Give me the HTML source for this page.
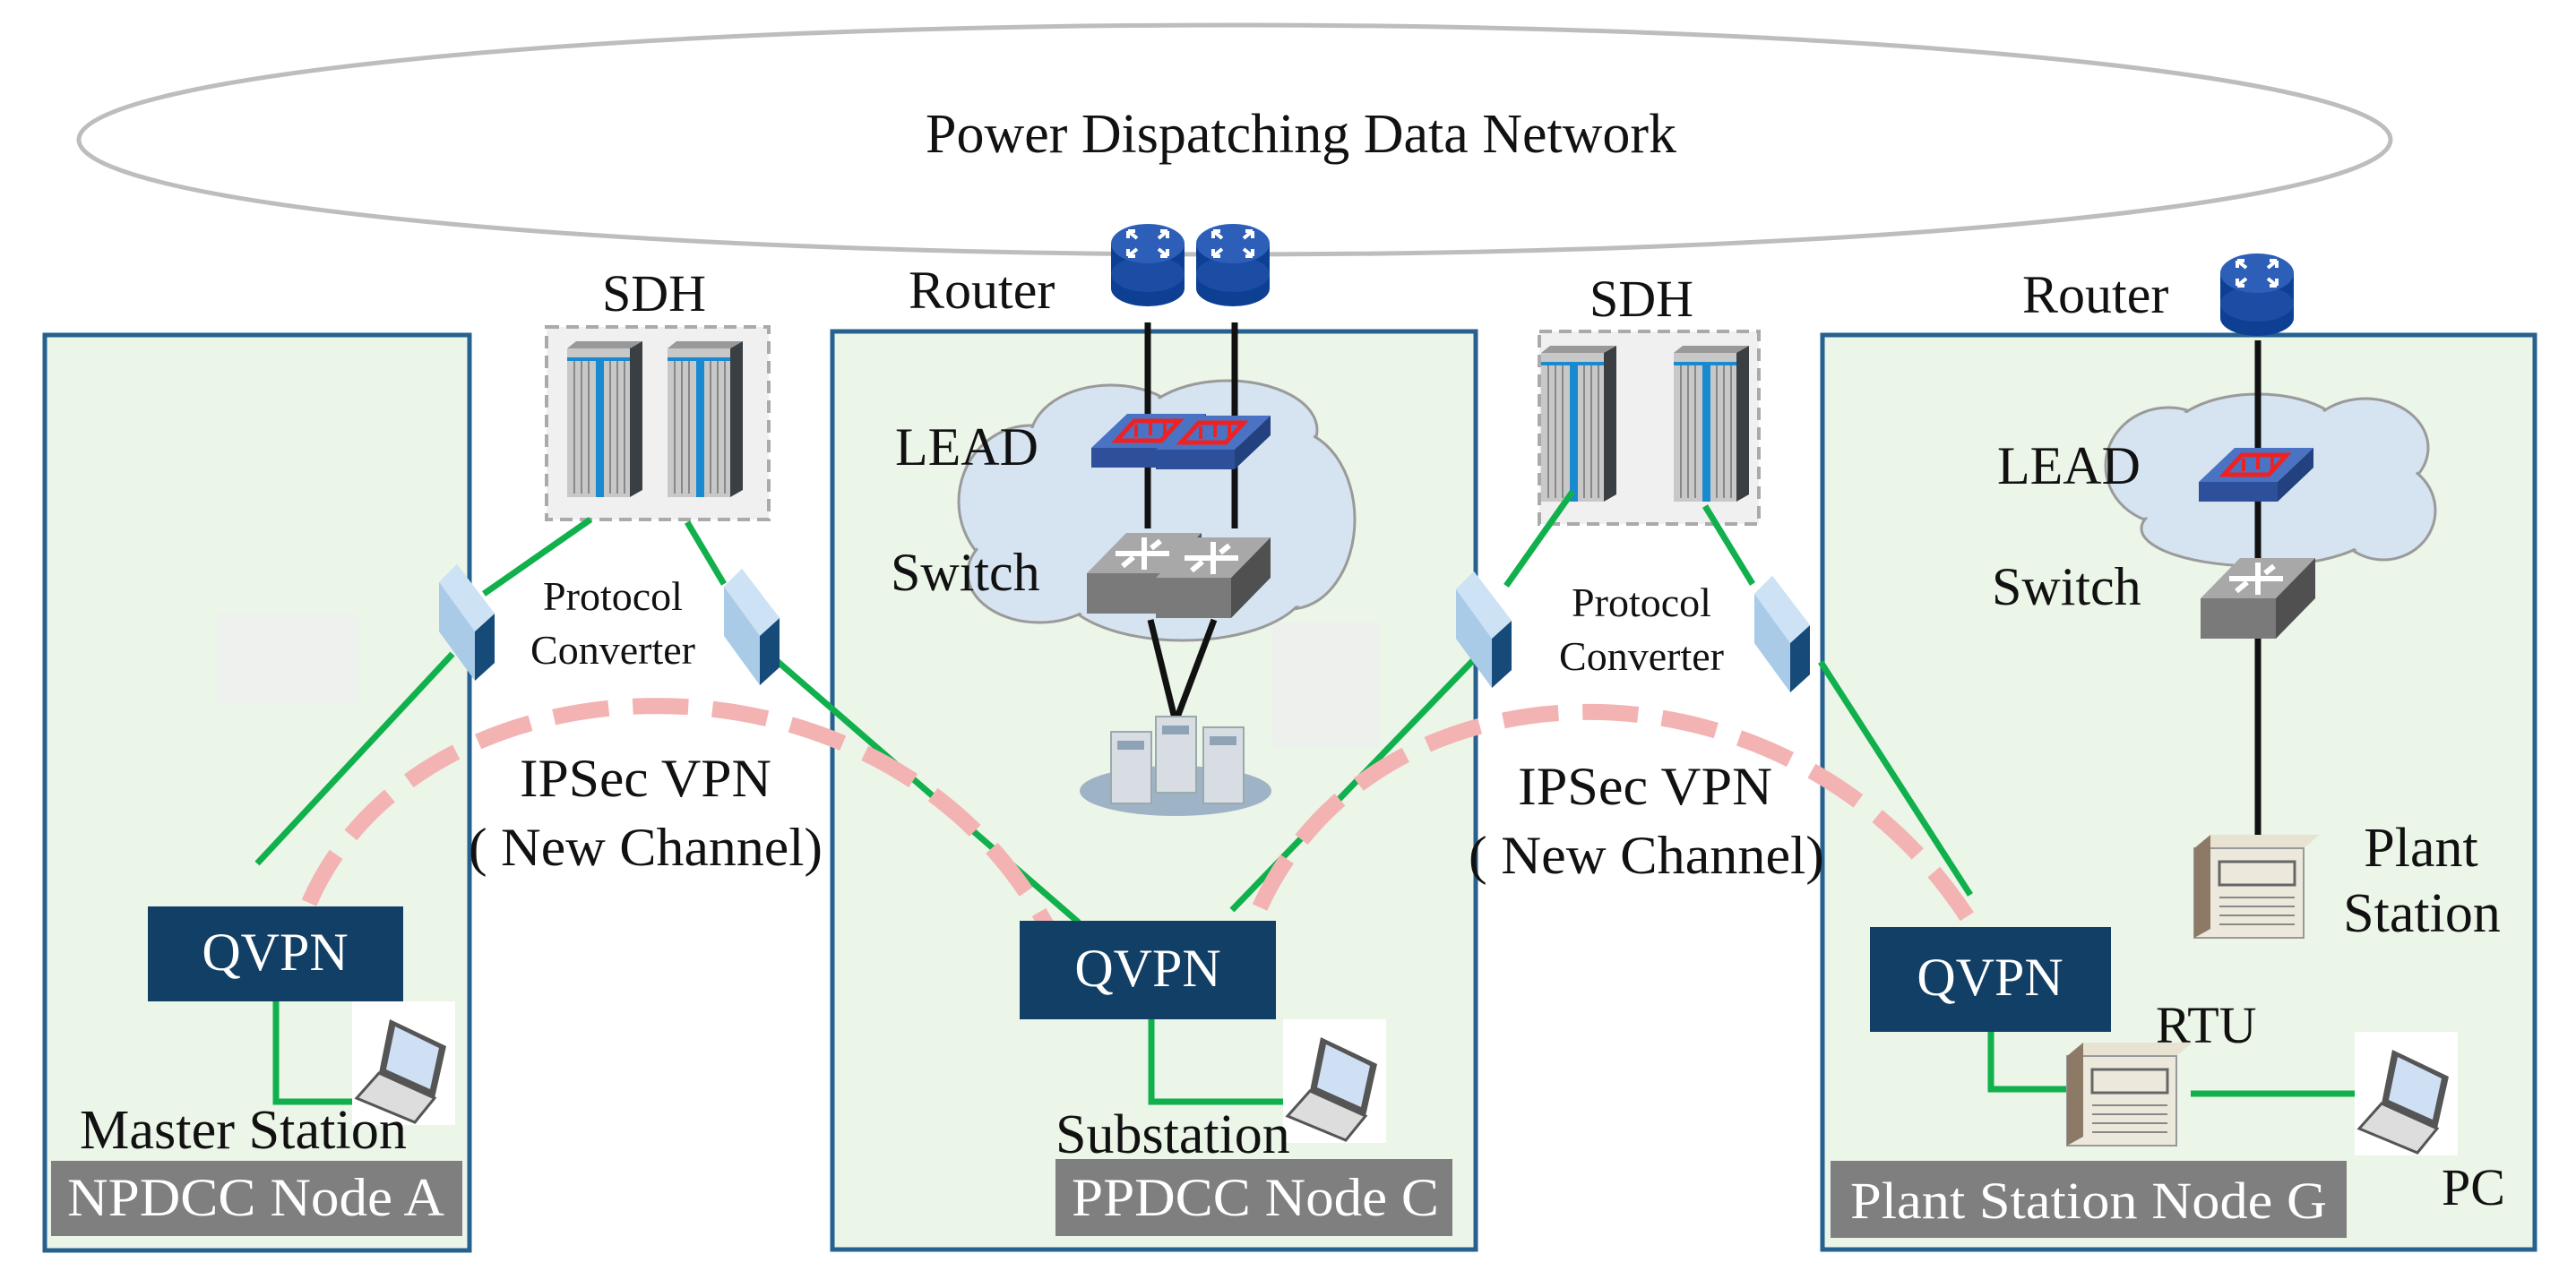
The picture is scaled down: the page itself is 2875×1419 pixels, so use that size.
<!DOCTYPE html>
<html><head><meta charset="utf-8"><style>
html,body{margin:0;padding:0;background:#fff;}
svg{display:block;}
text{font-family:"Liberation Serif","Times New Roman",serif;fill:#111;}
</style></head><body>
<svg width="2875" height="1419" viewBox="0 0 2875 1419" xmlns="http://www.w3.org/2000/svg" font-family="Liberation Serif, serif">
<defs>
<g id="router">
  <rect x="-41" y="-20" width="82" height="50" fill="#0d3f93"/>
  <ellipse cx="0" cy="30" rx="41" ry="20" fill="#0d3f93"/>
  <ellipse cx="0" cy="14" rx="41" ry="20" fill="#1a4da3"/>
  <ellipse cx="0" cy="-20" rx="41" ry="22" fill="#2d5fb8"/>
  <path d="M-22,-34 l10,8 M-22,-34 v8 M-22,-34 h8 M22,-34 l-10,8 M22,-34 v8 M22,-34 h-8 M-22,-6 l10,-8 M-22,-6 v-8 M-22,-6 h8 M22,-6 l-10,-8 M22,-6 v-8 M22,-6 h-8" stroke="#fff" stroke-width="4" fill="none"/>
</g>
<g id="lead">
  <polygon points="-62,0 -22,-38 66,-38 26,0" fill="#4a73c4"/>
  <polygon points="-62,0 26,0 26,22 -62,22" fill="#2e4f99"/>
  <polygon points="26,0 66,-38 66,-16 26,22" fill="#23407f"/>
  <polygon points="-34,-8 -14,-30 36,-30 16,-8" fill="none" stroke="#e22" stroke-width="5"/>
  <path d="M-12,-26 v14 M4,-28 v14 M20,-28 v14" stroke="#e22" stroke-width="4"/>
</g>
<g id="switch">
  <polygon points="-62,0 -18,-45 66,-45 22,0" fill="#a8a8a8"/>
  <polygon points="-62,0 22,0 22,45 -62,45" fill="#7a7a7a"/>
  <polygon points="22,0 66,-45 66,0 22,45" fill="#505050"/>
  <path d="M-30,-22 h60 M2,-40 v36 M-22,-8 l12,-10 M20,-36 l-10,8" stroke="#fff" stroke-width="6" fill="none"/>
</g>
<g id="rack">
  <rect x="0" y="8" width="70" height="166" fill="#c8c8c8"/>
  <path d="M8,20 v150 M16,20 v150 M24,20 v150 M48,20 v150 M56,20 v150 M64,20 v150" stroke="#888" stroke-width="2"/>
  <rect x="32" y="20" width="9" height="154" fill="#1a8ad0"/>
  <rect x="0" y="18" width="70" height="4" fill="#1a8ad0"/>
  <polygon points="0,8 10,0 84,0 70,8" fill="#999"/>
  <polygon points="70,8 84,0 84,166 70,174" fill="#3a3f44"/>
</g>
<g id="conv">
  <polygon points="0,20 20,0 62,55 62,110 40,130 0,75" fill="#a9cbe8"/>
  <polygon points="40,75 62,55 62,110 40,130" fill="#164a78"/>
  <polygon points="0,20 20,0 62,55 40,75" fill="#cde2f4"/>
</g>
<g id="laptop">
  <rect x="0" y="0" width="115" height="138" fill="#fff"/>
  <polygon points="42,20 105,50 92,108 30,80" fill="#555"/>
  <polygon points="48,28 97,52 87,98 38,76" fill="#cfe0f5"/>
  <polygon points="30,80 92,108 70,135 5,108" fill="#ddd" stroke="#555" stroke-width="3"/>
</g>
<g id="beige">
  <polygon points="0,15 18,0 140,0 122,15" fill="#e8e2d2"/>
  <rect x="0" y="15" width="122" height="100" fill="#ece8dc" stroke="#999" stroke-width="2"/>
  <polygon points="0,15 18,0 18,105 0,115" fill="#8c7a66"/>
  <rect x="28" y="30" width="84" height="26" fill="none" stroke="#666" stroke-width="3"/>
  <path d="M28,70 h84 M28,80 h84 M28,90 h84 M28,100 h84" stroke="#888" stroke-width="2"/>
</g>
</defs>

<ellipse cx="1378" cy="156" rx="1290" ry="128" fill="#fff" stroke="#bdbdbd" stroke-width="5"/>
<text x="1033" y="170" font-size="62" textLength="838" lengthAdjust="spacingAndGlyphs">Power Dispatching Data Network</text>

<rect x="50" y="374" width="474" height="1022" fill="#ebf5e8" stroke="#26618f" stroke-width="5"/>
<rect x="929" y="370" width="718" height="1025" fill="#ebf5e8" stroke="#26618f" stroke-width="5"/>
<rect x="2034" y="374" width="795" height="1021" fill="#ebf5e8" stroke="#26618f" stroke-width="5"/>

<rect x="243" y="684" width="156" height="102" fill="#eef1ed"/>
<rect x="1420" y="695" width="120" height="140" fill="#eef0ee"/>

<g fill="#d6e3f1" stroke="#9a9a9a" stroke-width="3">
  <ellipse cx="1150" cy="560" rx="80" ry="85"/>
  <ellipse cx="1240" cy="490" rx="90" ry="60"/>
  <ellipse cx="1370" cy="480" rx="100" ry="55"/>
  <ellipse cx="1440" cy="580" rx="72" ry="100"/>
  <ellipse cx="1320" cy="650" rx="140" ry="65"/>
  <ellipse cx="1160" cy="640" rx="80" ry="55"/>
  <ellipse cx="2420" cy="520" rx="70" ry="65"/>
  <ellipse cx="2520" cy="490" rx="100" ry="50"/>
  <ellipse cx="2640" cy="500" rx="70" ry="55"/>
  <ellipse cx="2660" cy="570" rx="58" ry="55"/>
  <ellipse cx="2520" cy="590" rx="130" ry="42"/>
</g>
<g fill="#d6e3f1">
  <ellipse cx="1150" cy="560" rx="77" ry="82"/>
  <ellipse cx="1240" cy="490" rx="87" ry="57"/>
  <ellipse cx="1370" cy="480" rx="97" ry="52"/>
  <ellipse cx="1440" cy="580" rx="69" ry="97"/>
  <ellipse cx="1320" cy="650" rx="137" ry="62"/>
  <ellipse cx="1160" cy="640" rx="77" ry="52"/>
  <rect x="1150" y="500" width="300" height="150"/>
  <ellipse cx="2420" cy="520" rx="67" ry="62"/>
  <ellipse cx="2520" cy="490" rx="97" ry="47"/>
  <ellipse cx="2640" cy="500" rx="67" ry="52"/>
  <ellipse cx="2660" cy="570" rx="55" ry="52"/>
  <ellipse cx="2520" cy="590" rx="127" ry="39"/>
  <rect x="2420" y="500" width="240" height="90"/>
</g>

<rect x="610" y="365" width="248" height="215" fill="#f0f0f0" stroke="#aaa" stroke-width="4" stroke-dasharray="14 8"/>
<use href="#rack" x="633" y="381"/>
<use href="#rack" x="745" y="381"/>
<rect x="1718" y="370" width="245" height="215" fill="#f0f0f0" stroke="#aaa" stroke-width="4" stroke-dasharray="14 8"/>
<use href="#rack" x="1720" y="386"/>
<use href="#rack" x="1868" y="386"/>
<text x="730" y="347" font-size="58" text-anchor="middle">SDH</text>
<text x="1832" y="353" font-size="58" text-anchor="middle">SDH</text>

<g stroke="#111" stroke-width="7" fill="none">
  <path d="M1281,360 V590 M1378,360 V590"/>
  <path d="M1284,692 L1312,806 L1355,692"/>
  <path d="M2520,380 V940"/>
</g>

<use href="#router" x="1281" y="292"/>
<use href="#router" x="1376" y="292"/>
<use href="#router" x="2519" y="325"/>
<text x="1014" y="344" font-size="60">Router</text>
<text x="2257" y="349" font-size="60">Router</text>

<use href="#lead" x="1280" y="500"/>
<use href="#lead" x="1352" y="502"/>
<use href="#switch" x="1275" y="640"/>
<use href="#switch" x="1352" y="645"/>
<use href="#lead" x="2516" y="538"/>
<use href="#switch" x="2518" y="668"/>
<text x="999" y="519" font-size="60">LEAD</text>
<text x="994" y="659" font-size="60">Switch</text>
<text x="2229" y="540" font-size="60">LEAD</text>
<text x="2223" y="675" font-size="60">Switch</text>

<ellipse cx="1312" cy="883" rx="107" ry="28" fill="#9fb3c6"/>
<g fill="#d8dde4" stroke="#9aa" stroke-width="2">
  <rect x="1240" y="817" width="45" height="80"/>
  <rect x="1290" y="800" width="45" height="85"/>
  <rect x="1343" y="812" width="45" height="85"/>
</g>
<g fill="#8fa3b6"><rect x="1247" y="827" width="30" height="10"/><rect x="1297" y="810" width="30" height="10"/><rect x="1350" y="822" width="30" height="10"/></g>

<g stroke="#10b04c" stroke-width="7" fill="none">
  <path d="M659,580 L540,663 M505,730 L287,964"/>
  <path d="M767,583 L808,652 M858,730 L1204,1030"/>
  <path d="M1755,549 L1681,654 M1653,728 L1375,1016"/>
  <path d="M1903,565 L1956,652 M2032,739 L2199,999"/>
  <path d="M308,1118 V1230 H422"/>
  <path d="M1285,1138 V1230 H1437"/>
  <path d="M2222,1150 V1216 H2307 M2445,1221 H2628"/>
</g>

<use href="#conv" x="490" y="630"/>
<use href="#conv" x="808" y="635"/>
<use href="#conv" x="1625" y="638"/>
<use href="#conv" x="1958" y="643"/>
<text x="684" y="681" font-size="46" text-anchor="middle">Protocol</text>
<text x="684" y="741" font-size="46" text-anchor="middle">Converter</text>
<text x="1832" y="688" font-size="46" text-anchor="middle">Protocol</text>
<text x="1832" y="748" font-size="46" text-anchor="middle">Converter</text>

<g stroke="#f3b3b3" stroke-width="18" fill="none" stroke-dasharray="62 27">
  <path d="M345,1008 C470,720 990,700 1170,1037"/>
  <path d="M1406,1013 C1540,720 2000,720 2197,1026"/>
</g>

<text x="580" y="889" font-size="60" textLength="281" lengthAdjust="spacingAndGlyphs">IPSec VPN</text>
<text x="523" y="966" font-size="60" textLength="395" lengthAdjust="spacingAndGlyphs">( New Channel)</text>
<text x="1694" y="898" font-size="60" textLength="284" lengthAdjust="spacingAndGlyphs">IPSec VPN</text>
<text x="1639" y="975" font-size="60" textLength="397" lengthAdjust="spacingAndGlyphs">( New Channel)</text>

<rect x="165" y="1012" width="285" height="106" fill="#123f66"/>
<text x="307" y="1083" font-size="60" text-anchor="middle" style="fill:#fff">QVPN</text>
<rect x="1138" y="1028" width="286" height="110" fill="#123f66"/>
<text x="1281" y="1101" font-size="60" text-anchor="middle" style="fill:#fff">QVPN</text>
<rect x="2087" y="1035" width="269" height="117" fill="#123f66"/>
<text x="2221" y="1111" font-size="60" text-anchor="middle" style="fill:#fff">QVPN</text>

<use href="#laptop" x="393" y="1118"/>
<use href="#laptop" x="1432" y="1138"/>
<use href="#laptop" x="2628" y="1152"/>

<use href="#beige" x="2449" y="932"/>
<use href="#beige" x="2307" y="1164"/>

<text x="89" y="1282" font-size="62" textLength="365" lengthAdjust="spacingAndGlyphs">Master Station</text>
<text x="1178" y="1287" font-size="62">Substation</text>
<text x="2406" y="1164" font-size="58">RTU</text>
<text x="2702" y="967" font-size="62" text-anchor="middle">Plant</text>
<text x="2703" y="1040" font-size="62" text-anchor="middle">Station</text>
<text x="2725" y="1345" font-size="58">PC</text>

<rect x="57" y="1296" width="459" height="84" fill="#7f7f7f"/>
<text x="75" y="1357" font-size="60" textLength="421" lengthAdjust="spacingAndGlyphs" style="fill:#fff">NPDCC Node A</text>
<rect x="1178" y="1294" width="443" height="86" fill="#7f7f7f"/>
<text x="1196" y="1357" font-size="60" textLength="410" lengthAdjust="spacingAndGlyphs" style="fill:#fff">PPDCC Node C</text>
<rect x="2043" y="1296" width="576" height="86" fill="#7f7f7f"/>
<text x="2065" y="1360" font-size="58" textLength="532" lengthAdjust="spacingAndGlyphs" style="fill:#fff">Plant Station Node G</text>
</svg>
</body></html>
